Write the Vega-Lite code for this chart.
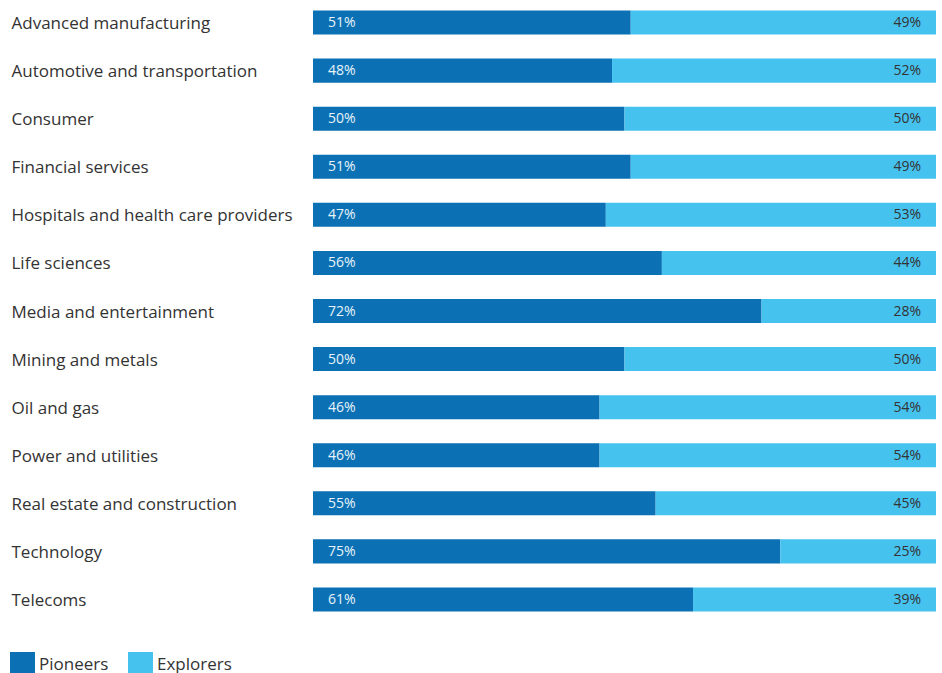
{
  "$schema": "https://vega.github.io/schema/vega-lite/v6.json",
  "autosize": {"type": "none"},
  "width": 623,
  "height": 622,
  "padding": {"left": 313, "top": 0, "right": 6, "bottom": 51},
  "background": "white",
  "config": {"view": {"stroke": null}, "font": "Open Sans"},
  "data": {"values": [
    {"sector": "Advanced manufacturing", "group": "Pioneers", "value": 51, "label": "51%"},
    {"sector": "Advanced manufacturing", "group": "Explorers", "value": 49, "label": "49%"},
    {"sector": "Automotive and transportation", "group": "Pioneers", "value": 48, "label": "48%"},
    {"sector": "Automotive and transportation", "group": "Explorers", "value": 52, "label": "52%"},
    {"sector": "Consumer", "group": "Pioneers", "value": 50, "label": "50%"},
    {"sector": "Consumer", "group": "Explorers", "value": 50, "label": "50%"},
    {"sector": "Financial services", "group": "Pioneers", "value": 51, "label": "51%"},
    {"sector": "Financial services", "group": "Explorers", "value": 49, "label": "49%"},
    {"sector": "Hospitals and health care providers", "group": "Pioneers", "value": 47, "label": "47%"},
    {"sector": "Hospitals and health care providers", "group": "Explorers", "value": 53, "label": "53%"},
    {"sector": "Life sciences", "group": "Pioneers", "value": 56, "label": "56%"},
    {"sector": "Life sciences", "group": "Explorers", "value": 44, "label": "44%"},
    {"sector": "Media and entertainment", "group": "Pioneers", "value": 72, "label": "72%"},
    {"sector": "Media and entertainment", "group": "Explorers", "value": 28, "label": "28%"},
    {"sector": "Mining and metals", "group": "Pioneers", "value": 50, "label": "50%"},
    {"sector": "Mining and metals", "group": "Explorers", "value": 50, "label": "50%"},
    {"sector": "Oil and gas", "group": "Pioneers", "value": 46, "label": "46%"},
    {"sector": "Oil and gas", "group": "Explorers", "value": 54, "label": "54%"},
    {"sector": "Power and utilities", "group": "Pioneers", "value": 46, "label": "46%"},
    {"sector": "Power and utilities", "group": "Explorers", "value": 54, "label": "54%"},
    {"sector": "Real estate and construction", "group": "Pioneers", "value": 55, "label": "55%"},
    {"sector": "Real estate and construction", "group": "Explorers", "value": 45, "label": "45%"},
    {"sector": "Technology", "group": "Pioneers", "value": 75, "label": "75%"},
    {"sector": "Technology", "group": "Explorers", "value": 25, "label": "25%"},
    {"sector": "Telecoms", "group": "Pioneers", "value": 61, "label": "61%"},
    {"sector": "Telecoms", "group": "Explorers", "value": 39, "label": "39%"}
  ]},
  "encoding": {
    "y": {
      "field": "sector", "type": "nominal", "sort": null,
      "scale": {"paddingInner": 0.5, "paddingOuter": 0.2186},
      "axis": {
        "title": null, "domain": false, "ticks": false, "tickSize": 0,
        "labelAlign": "left", "labelPadding": 302, "labelFontSize": 17,
        "labelColor": "#333333", "labelFont": "Open Sans", "labelLimit": 300,
        "labelOffset": 1.5
      }
    }
  },
  "layer": [
    {
      "mark": {"type": "bar"},
      "encoding": {
        "x": {"field": "value", "type": "quantitative", "stack": "zero", "scale": {"domain": [0, 100], "nice": false}, "axis": null},
        "color": {
          "field": "group", "type": "nominal",
          "scale": {"domain": ["Pioneers", "Explorers"], "range": ["#0C71B4", "#46C2EF"]},
          "legend": {
            "title": null, "orient": "none", "direction": "horizontal",
            "legendX": -303, "legendY": 652,
            "symbolType": "square", "symbolSize": 625, "symbolStrokeWidth": 0,
            "labelFontSize": 17, "labelColor": "#333333", "labelFont": "Open Sans",
            "labelOffset": 4, "columnPadding": 19
          }
        },
        "order": {"field": "group", "type": "nominal", "sort": "descending"}
      }
    },
    {
      "transform": [{"filter": "datum.group === 'Pioneers'"}],
      "mark": {"type": "text", "align": "left", "baseline": "middle", "dx": 15, "dy": 0.5, "fontSize": 14, "color": "#e8f3fa"},
      "encoding": {
        "x": {"datum": 0, "type": "quantitative"},
        "text": {"field": "label"}
      }
    },
    {
      "transform": [{"filter": "datum.group === 'Explorers'"}],
      "mark": {"type": "text", "align": "right", "baseline": "middle", "dx": -15, "dy": 0.5, "fontSize": 14, "color": "#333333"},
      "encoding": {
        "x": {"datum": 100, "type": "quantitative"},
        "text": {"field": "label"}
      }
    }
  ]
}
